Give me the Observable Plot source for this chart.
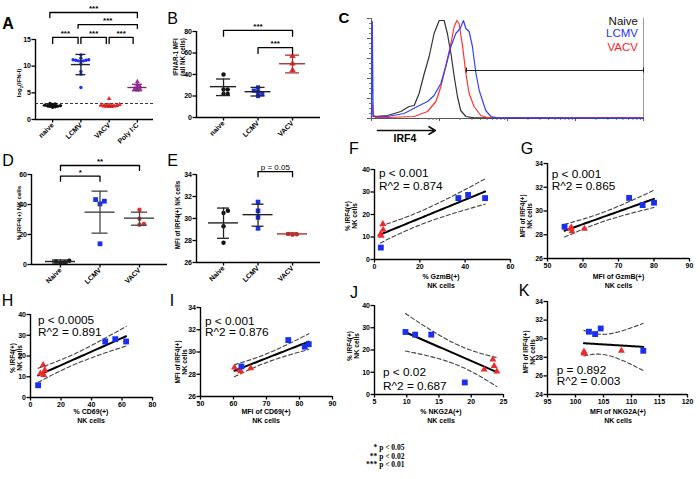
<!DOCTYPE html>
<html><head><meta charset="utf-8">
<script src="https://cdn.jsdelivr.net/npm/d3@7"></script>
<script src="https://cdn.jsdelivr.net/npm/@observablehq/plot@0.6"></script>
<style>
body{margin:0;background:#fff;}
#fig{position:relative;width:700px;height:479px;overflow:hidden;font-family:"Liberation Sans",Arial,sans-serif;background:#fff;}
.pl{position:absolute;}
.pl svg{max-width:none !important;overflow:visible;background:transparent;}
.t{position:absolute;white-space:pre;line-height:1.25;color:#000;}
</style></head><body><div id="fig"></div><script>
// ---------- DATA ----------
// Panel A
const catsA = ["naive","LCMV","VACV","Poly I:C"];
const aNaive = [2.3,2.4,2.5,2.5,2.6,2.6,2.7,2.8,2.9,3.0];
const aLCMV = [6.0,8.5,9.0,10.4,10.9,11.0,11.0,11.1,11.1,11.2,11.2,11.5,12.1];
const aVACV = [2.4,2.4,2.5,2.5,2.5,2.6,2.7,2.8,3.9];
const aPoly = [5.5,5.7,5.8,6.0,6.2,6.5,7.1];
const meanA = [2.6,10.3,2.6,6.0], loA = [2.35,8.4,2.4,5.4], hiA = [2.9,12.2,2.9,6.6];
const thresholdA = [3];
const sigA = [[-0.1,3,20.06,19.1,"***"],[0.9,3,17.8,17.1,"***"],[0,0.9,15.4,14.25,"***"],[1,1.9,15.4,14.25,"***"],[2,2.85,15.4,14.25,"***"]];
// Panel B
const catsB = ["naive","LCMV","VACV"];
const bNaive = [22,22,26,26,40], bLCMV = [20,22,24,25,28], bVACV = [44,50,57];
const meanB = [28.7,24,50], loB = [20.4,20,41.5], hiB = [35.8,28,58];
const sigB = [[0,2,81,75.5,"***"],[1,2,65,59.5,"***"]];
// Panel C (histogram, x in % of axis, y in % of max)
const histNaive = [[0.5,2],[1,2],[5.9,3],[10.8,7],[13.8,12],[15.7,13],[17.5,25],[19.4,45],[21.2,62],[23,85],[24.9,98],[26.7,98],[27.9,85],[29.2,65],[30.4,42],[31.6,22],[32.8,8],[34.7,2],[37.7,0.6],[100,0.4]];
const histRed = [[0,1],[0.3,15],[0.7,3],[1.5,1],[5.9,1],[15.7,2],[20.6,7],[23.7,17],[25.5,32],[27.3,52],[29.2,75],[30.4,92],[31.4,98],[32.2,95],[33.5,72],[34.7,45],[35.9,25],[37.7,12],[40.2,3],[42.6,1],[100,1]];
const histBlue = [[0,1],[0.3,97],[0.6,3],[1.6,2],[5.9,2],[12,5],[16.9,12],[20.6,17],[23,23],[25.5,35],[27.3,52],[29.2,72],[31,85],[32.6,90],[33.8,98],[34.7,90],[35.9,87],[37.1,72],[38.4,45],[39.6,28],[40.8,18],[42,8],[43.9,2],[46.3,0.6],[100,0.4]];
const gateC = [34.9,100,48];
const histLegend = ["Naive","LCMV","VACV"];
// Panel D
const catsD = ["Naive","LCMV","VACV"];
const dNaive = [1.0,1.5,2.0,2.5], dLCMV = [13.8,40.4,42.2,43.3], dVACV = [26.5,27,30.5,36.5];
const meanD = [2.0,34.9,30.9], loD = [1.0,20.9,26.2], hiD = [3.0,48.9,34.9];
const sigD = [[0,2,66,62.7,"**"],[0,1,58.9,55.5,"*"]];
// Panel E
const catsE = ["Naive","LCMV","VACV"];
const eNaive = [27.8,29.3,30.5,30.7], eLCMV = [29.1,30.1,30.7,31.5], eVACV = [28.5,28.55,28.6];
const meanE = [29.6,30.35,28.6], loE = [28.2,29.3,28.5], hiE = [30.95,31.3,28.7];
const sigE = [[1,2,34.27,33.8,"p = 0.05"]];
// Regression panels: [x, y]
const fBlue = [[2.8,5.3],[37,27.3],[41.3,28.7],[48.8,27.3]], fRed = [[3.7,15.8],[3.8,13.2],[2.6,11.2],[2.9,10.6]];
const gBlue = [[54.8,28.67],[73,31.1],[76.8,30.5],[80,30.7]], gRed = [[56.7,28.6],[56.9,28.3],[60.4,28.5],[56.4,28.5]];
const hBlue = [[5,5.9],[49,27],[55.6,28.1],[62.7,27]], hRed = [[8.3,15.7],[9.4,13.2],[6.5,11.6],[8.7,10.9]];
const iBlue = [[62.4,28.7],[76.6,31.07],[81.6,30.48],[82.8,30.7]], iRed = [[60.3,28.6],[61.9,28.39],[62.2,28.27],[65.2,28.54]];
const jBlue = [[9.8,28.1],[11.3,26.9],[13.8,26.9],[19,5.4]], jRed = [[22,11.2],[23.35,15.7],[23.55,12.8],[23.97,10.4]];
const kBlue = [[102.4,30.75],[103.5,30.5],[104.5,31.1],[112.1,28.7]], kRed = [[101.5,28.6],[101.5,28.4],[101.6,28.5],[108.2,28.7]];
const statText = {F:["p < 0.001","R^2 = 0.874"],G:["p < 0.001","R^2 = 0.865"],H:["p < 0.0005","R^2 = 0.891"],I:["p < 0.001","R^2 = 0.876"],J:["p < 0.02","R^2 = 0.687"],K:["p = 0.892","R^2 = 0.003"]};
const sigLegend = ["* p < 0.05","** p < 0.02","*** p < 0.01"];
const T975 = {4:2.776,5:2.571,6:2.447,7:2.365};

// ---------- HELPERS ----------
const fig = document.getElementById("fig");
const BLUE = "#1a2ff0", RED = "#ee2a2a", PURPLE = "#a02aa0", BLK = "#111";
const AX = {stroke:"#000", strokeWidth:1.4};
const STYLE = {fontFamily:"Liberation Sans, Arial, sans-serif", fontSize:"7px", fontWeight:"bold", background:"transparent", overflow:"visible", maxWidth:"none"};

function frame(o){
  const ML=40, MR=14, MT=45, MB=42;
  return {ML,MR,MT,MB,W:ML+(o.x1-o.x0)+MR,H:MT+(o.yb-o.yt)+MB,left:o.x0-ML,top:o.yt-MT};
}
function place(f, marks, xdom, ydom){
  const p = Plot.plot({width:f.W,height:f.H,marginLeft:f.ML,marginRight:f.MR,marginTop:f.MT,marginBottom:f.MB,
    x:{domain:xdom,label:null},y:{domain:ydom,label:null},style:STYLE,marks});
  const d = document.createElement("div");
  d.className="pl"; d.style.left=f.left+"px"; d.style.top=f.top+"px"; d.style.width=f.W+"px";
  d.appendChild(p); fig.appendChild(d);
}
function txt(x,y,s,opt={}){
  const d=document.createElement("div");
  d.className="t"; d.innerHTML=s;
  d.style.left=x+"px"; d.style.top=y+"px";
  d.style.fontSize=(opt.size||7)+"px";
  d.style.fontWeight=opt.weight||"bold";
  if(opt.family) d.style.fontFamily=opt.family;
  if(opt.color) d.style.color=opt.color;
  if(opt.lh) d.style.lineHeight=opt.lh;
  d.style.textAlign=opt.align||"center";
  const ax = opt.anchor==="start"?"0":opt.anchor==="end"?"-100%":"-50%";
  d.style.transform=`translate(${ax},-50%)`+(opt.rot?` rotate(${opt.rot}deg)`:"");
  if(opt.rot) d.style.transformOrigin="50% 50%";
  fig.appendChild(d);
}

function catPanel(o){
  const f=frame(o);
  const pxX=(o.x1-o.x0)/(o.xdom[1]-o.xdom[0]);
  const pxY=(o.yb-o.yt)/(o.ydom[1]-o.ydom[0]);
  const marks=[];
  marks.push(Plot.ruleX([o.xdom[0]],{y1:o.ydom[0],y2:o.ydom[1],...AX}));
  marks.push(Plot.ruleY([o.ydom[0]],{x1:o.xdom[0],x2:o.xdom[1],...AX}));
  marks.push(Plot.axisY(o.yticks,{tickSize:3.5,tickPadding:1,strokeWidth:1.3}));
  marks.push(Plot.axisX(o.cats.map((c,i)=>i),{tickFormat:i=>o.cats[i],tickRotate:-45,tickSize:3.5,tickPadding:1,strokeWidth:1.3}));
  if(o.threshold) marks.push(Plot.ruleY(o.threshold,{x1:o.xdom[0],x2:o.xdom[1],stroke:"#222",strokeWidth:0.9,strokeDasharray:"3,2"}));
  o.groups.forEach(g=>{
    const placed=[], pts=[];
    [...g.vals].sort((a,b)=>a-b).forEach(v=>{
      const py=v*pxY; let off=0;
      for(let k=0;k<40;k++){
        off=(k%2?1:-1)*Math.ceil(k/2)*o.sp;
        if(placed.every(p=>Math.hypot(p[0]-off,p[1]-py)>=o.sp*0.999)) break;
      }
      placed.push([off,py]);
      pts.push({x:g.i+off/pxX,y:v});
    });
    marks.push(Plot.dot(pts,{x:"x",y:"y",fill:g.color,symbol:g.symbol,r:g.r}));
  });
  o.stats.forEach(s=>{
    const mw=o.mw/pxX, cw=o.cw/pxX;
    marks.push(Plot.ruleX([s],{x:"i",y1:"lo",y2:"hi",stroke:s.color,strokeWidth:1.3}));
    marks.push(Plot.ruleY([s],{y:"mean",x1:d=>d.i-mw,x2:d=>d.i+mw,stroke:s.color,strokeWidth:1.4}));
    marks.push(Plot.ruleY([s.lo,s.hi],{y:d=>d,x1:()=>s.i-cw,x2:()=>s.i+cw,stroke:s.color,strokeWidth:1.3}));
  });
  o.brackets.forEach(b=>{
    const [bx1,bx2,by,bl,lab]=b;
    marks.push(Plot.line([[bx1,bl],[bx1,by],[bx2,by],[bx2,bl]],{x:d=>d[0],y:d=>d[1],stroke:"#000",strokeWidth:1.3}));
    marks.push(Plot.text([lab],{x:()=>(bx1+bx2)/2,y:()=>by,text:d=>d,lineAnchor:"bottom",dy:o.labDy||-1.5,fontSize:o.labSize||8,fontWeight:o.labWeight||"bold"}));
  });
  place(f,marks,o.xdom,o.ydom);
}
function stats(mean,lo,hi,colors){return mean.map((m,i)=>({i,mean:m,lo:lo[i],hi:hi[i],color:colors[i]}));}

function regPanel(o){
  const f=frame(o);
  const all=o.blue.concat(o.red), n=all.length;
  const mx=d3.mean(all,d=>d[0]), my=d3.mean(all,d=>d[1]);
  const sxx=d3.sum(all,d=>(d[0]-mx)**2), sxy=d3.sum(all,d=>(d[0]-mx)*(d[1]-my));
  const b=sxy/sxx, a=my-b*mx;
  const s=Math.sqrt(d3.sum(all,d=>(d[1]-a-b*d[0])**2)/(n-2));
  const t=T975[n-2];
  const [xmin,xmax]=d3.extent(all,d=>d[0]);
  const band=d3.range(41).map(k=>{const x=xmin+(xmax-xmin)*k/40;const yh=a+b*x;const se=s*Math.sqrt(1/n+(x-mx)**2/sxx);return {x,yh,lo:yh-t*se,hi:yh+t*se};});
  const marks=[
    Plot.ruleX([o.xdom[0]],{y1:o.ydom[0],y2:o.ydom[1],...AX}),
    Plot.ruleY([o.ydom[0]],{x1:o.xdom[0],x2:o.xdom[1],...AX}),
    Plot.axisY(o.yticks,{tickSize:3.5,tickPadding:1,strokeWidth:1.3}),
    Plot.axisX(o.xticks,{tickSize:3.5,tickPadding:1,strokeWidth:1.3}),
    Plot.line(band,{x:"x",y:"hi",stroke:"#444",strokeWidth:1.1,strokeDasharray:"4,2.5"}),
    Plot.line(band,{x:"x",y:"lo",stroke:"#444",strokeWidth:1.1,strokeDasharray:"4,2.5"}),
    Plot.line(band,{x:"x",y:"yh",stroke:"#000",strokeWidth:2}),
    Plot.dot(o.red,{x:d=>d[0],y:d=>d[1],symbol:"triangle",fill:RED,r:2.6}),
    Plot.dot(o.blue,{x:d=>d[0],y:d=>d[1],symbol:"square",fill:BLUE,r:3.3})
  ];
  place(f,marks,o.xdom,o.ydom);
}

// ---------- PANELS ----------
catPanel({x0:35,x1:153,yb:119,yt:39,xdom:[-0.607,3.571],ydom:[0,15],yticks:[0,5,10,15],cats:catsA,sp:2.6,mw:9.5,cw:5,threshold:thresholdA,
  groups:[{i:0,vals:aNaive,color:BLK,symbol:"circle",r:1.7},{i:1,vals:aLCMV,color:BLUE,symbol:"circle",r:1.7},{i:2,vals:aVACV,color:RED,symbol:"triangle",r:1.8},{i:3,vals:aPoly,color:PURPLE,symbol:"triangle",r:1.8}],
  stats:stats(meanA,loA,hiA,["#111","#223","#c22","#7a2a7a"]),brackets:sigA});
catPanel({x0:196,x1:320,yb:117,yt:31,xdom:[-0.783,2.81],ydom:[0,80],yticks:[0,20,40,60,80],cats:catsB,sp:4.2,mw:13,cw:7,
  groups:[{i:0,vals:bNaive,color:BLK,symbol:"circle",r:2.2},{i:1,vals:bLCMV,color:BLUE,symbol:"square",r:2.4},{i:2,vals:bVACV,color:RED,symbol:"triangle",r:2.4}],
  stats:stats(meanB,loB,hiB,["#222","#222","#a33"]),brackets:sigB});
catPanel({x0:31,x1:167,yb:264,yt:174,xdom:[-0.734,2.709],ydom:[0,60],yticks:[0,20,40,60],cats:catsD,sp:4.4,mw:15,cw:8,
  groups:[{i:0,vals:dNaive,color:BLK,symbol:"circle",r:2.2},{i:1,vals:dLCMV,color:BLUE,symbol:"square",r:2.7},{i:2,vals:dVACV,color:RED,symbol:"circle",r:2.2}],
  stats:stats(meanD,loD,hiD,["#222","#444","#444"]),brackets:sigD});
catPanel({x0:196,x1:320,yb:262,yt:174,xdom:[-0.783,2.81],ydom:[26,34],yticks:[26,28,30,32,34],cats:catsE,sp:4.4,mw:15,cw:6,
  groups:[{i:0,vals:eNaive,color:BLK,symbol:"circle",r:2.2},{i:1,vals:eLCMV,color:BLUE,symbol:"square",r:2.6},{i:2,vals:eVACV,color:RED,symbol:"circle",r:2.1}],
  stats:stats(meanE,loE,hiE,["#222","#222","#a33"]),brackets:sigE,labSize:8,labWeight:"normal",labDy:-2});

// Panel C histogram
(function(){
  const o={x0:371,x1:643,yb:118,yt:18};
  const f=frame(o);
  const majX=[0,25,50,75,100], minX=[];
  [0,25,50,75].forEach(a=>{for(let k=2;k<10;k++) minX.push(a+25*Math.log10(k));});
  const minY=d3.range(0,101,5);
  const line=(arr,col)=>Plot.line(arr,{x:d=>d[0],y:d=>d[1],stroke:col,strokeWidth:1.2});
  const marks=[
    Plot.ruleX([0],{y1:0,y2:100,stroke:"#555",strokeWidth:1}),
    Plot.ruleY([0],{x1:0,x2:100,stroke:"#555",strokeWidth:1}),
    Plot.ruleX([100],{y1:0,y2:100,stroke:"#999",strokeWidth:1}),
    Plot.axisY([0,20,40,60,80,100],{tickSize:4,tickFormat:()=>"",stroke:"#555"}),
    Plot.axisY(minY,{tickSize:2,tickFormat:()=>"",stroke:"#777"}),
    Plot.axisX(majX,{tickSize:3,tickFormat:()=>"",stroke:"#555"}),
    Plot.axisX(minX.filter(v=>v>20&&v<100),{tickSize:2,tickFormat:()=>"",stroke:"#777"}),
    line(histNaive,"#333"),
    line(histRed,"#ff3030"),
    line(histBlue,"#3340ff"),
    Plot.ruleY([gateC[2]],{x1:gateC[0],x2:gateC[1],stroke:"#222",strokeWidth:1.1}),
    Plot.ruleX([gateC[0],gateC[1]],{y1:gateC[2]-2.5,y2:gateC[2]+2.5,stroke:"#222",strokeWidth:1.1}),
    Plot.arrow([0],{x1:()=>2.2,x2:()=>23.5,y1:()=>-12,y2:()=>-12,stroke:"#111",strokeWidth:1.6,headLength:7})
  ];
  place(f,marks,[0,100],[0,100]);
})();

regPanel({x0:374,x1:510,yb:259,yt:169,xdom:[0,60],ydom:[0,40],xticks:[0,20,40,60],yticks:[0,10,20,30,40],blue:fBlue,red:fRed});
regPanel({x0:547,x1:689,yb:258,yt:163,xdom:[50,90],ydom:[26,34],xticks:[50,60,70,80,90],yticks:[26,28,30,32,34],blue:gBlue,red:gRed});
regPanel({x0:30,x1:152,yb:397,yt:314,xdom:[0,80],ydom:[0,40],xticks:[0,20,40,60,80],yticks:[0,10,20,30,40],blue:hBlue,red:hRed});
regPanel({x0:200,x1:332,yb:396,yt:307,xdom:[50,90],ydom:[26,34],xticks:[50,60,70,80,90],yticks:[26,28,30,32,34],blue:iBlue,red:iRed});
regPanel({x0:374,x1:503,yb:394,yt:305,xdom:[5,25],ydom:[0,40],xticks:[5,10,15,20,25],yticks:[0,10,20,30,40],blue:jBlue,red:jRed});
regPanel({x0:547,x1:687,yb:394,yt:301,xdom:[95,120],ydom:[24,34],xticks:[95,100,105,110,115,120],yticks:[24,26,28,30,32,34],blue:kBlue,red:kRed});

// ---------- TEXT ----------
const L={size:16,weight:"normal",lh:1};
txt(8,24,"A",{size:16,weight:"bold",lh:1}); txt(172.5,19,"B",L); txt(344,17,"C",{size:15,weight:"bold",lh:1});
txt(8,161,"D",L); txt(172.5,161,"E",L); txt(354,149,"F",L); txt(527,149,"G",L);
txt(7.5,301,"H",L); txt(172,301,"I",L); txt(354,292.5,"J",L); txt(524,291,"K",L);
// y labels
txt(18.5,83,"log<sub style='font-size:70%;line-height:0'>2</sub>(IFN-I)",{rot:-90,size:6,lh:1});
txt(179,57,"IFNAR-1 MFI\n(all NK cells)",{rot:-90,size:6.3,lh:1.15});
txt(19,213,"% IRF4(+) NK cells",{rot:-90,size:6.2,lh:1});
txt(178,215,"MFI of IRF4(+) NK cells",{rot:-90,size:6.3,lh:1});
txt(351,216,"% IRF4(+)\nNK cells",{rot:-90,size:6.5,lh:1.15});
txt(526,216,"MFI of IRF4(+)\nNK cells",{rot:-90,size:6.5,lh:1.15});
txt(15.6,358,"% IRF4(+)\nNK cells",{rot:-90,size:6.5,lh:1.15});
txt(180.5,362,"MFI of IRF4(+)\nNK cells",{rot:-90,size:6.5,lh:1.15});
txt(352.5,346,"% IRF4(+)\nNK cells",{rot:-90,size:6.5,lh:1.15});
txt(528.5,352,"MFI of IRF4(+)\nNK cells",{rot:-90,size:6.5,lh:1.15});
// x labels
const XL={size:7,lh:1.25};
txt(441,282,"% GzmB(+)\nNK cells",XL);
txt(618.5,282,"MFI of GzmB(+)\nNK cells",XL);
txt(91,417,"% CD69(+)\nNK cells",XL);
txt(266,417,"MFI of CD69(+)\nNK cells",XL);
txt(441,417,"% NKG2A(+)\nNK cells",XL);
txt(618,417,"MFI of NKG2A(+)\nNK cells",XL);
// stats text (two lines per panel)
function statBlock(x,y1,y2,lines){txt(x,(y1+y2)/2,lines.join("\n"),{size:11.8,weight:"normal",anchor:"start",align:"left",lh:(y2-y1)+"px"});}
statBlock(379,173,185.5,statText.F);
statBlock(551.7,173.3,185.7,statText.G);
statBlock(38,321,332.7,statText.H);
statBlock(205,321.7,333.3,statText.I);
statBlock(383,371.7,386,statText.J);
statBlock(556.7,370.7,382.3,statText.K);
// histogram legend + IRF4
txt(638,21.5,histLegend[0],{size:11.5,weight:"normal",anchor:"end",color:"#111",lh:1});
txt(638,34,histLegend[1],{size:11.5,weight:"normal",anchor:"end",color:"#2233ff",lh:1});
txt(638,48,histLegend[2],{size:11.5,weight:"normal",anchor:"end",color:"#ff2222",lh:1});
txt(405,138,"IRF4",{size:10.5,weight:"bold",lh:1});
// significance legend
const SL={size:7.5,weight:"bold",family:"Liberation Serif, 'Times New Roman', serif",anchor:"end",align:"right",color:"#000",lh:1};
txt(404.5,448,sigLegend[0],SL); txt(404.5,456.5,sigLegend[1],SL); txt(404.5,465,sigLegend[2],SL);
</script></body></html>
